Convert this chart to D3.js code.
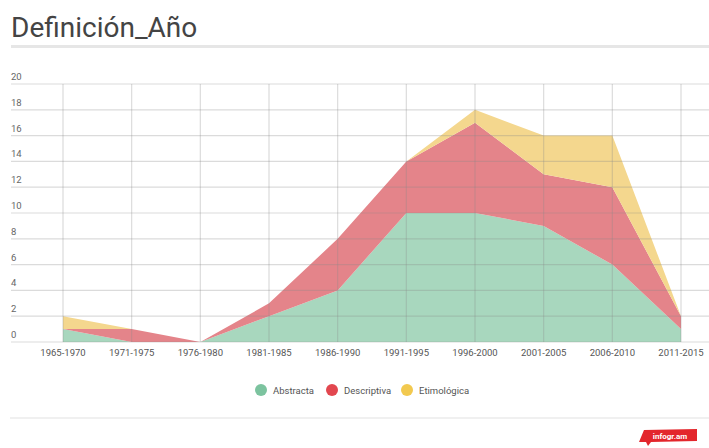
<!DOCTYPE html>
<html><head><meta charset="utf-8">
<script src="https://cdn.jsdelivr.net/npm/d3@7"></script>
<style>body{margin:0;background:#fff;}svg{display:block;}</style>
</head><body>
<svg id="c" width="709" height="448"></svg>
<script>
const categories = ["1965-1970","1971-1975","1976-1980","1981-1985","1986-1990","1991-1995","1996-2000","2001-2005","2006-2010","2011-2015"];
const abstracta   = [1,0,0,2,4,10,10,9,6,1];
const descriptiva = [0,1,0,1,4,4,7,4,6,1];
const etimologica = [1,0,0,0,0,0,1,3,4,0];
const seriesNames = ["Abstracta","Descriptiva","Etimológica"];
const yTicks = [0,2,4,6,8,10,12,14,16,18,20];
const legendColors = ["#7cc39f","#e2474f","#f2c94f"];
const areaColors = ["#a8d7be","#e4848a","#f4d78e"];

const svg = d3.select("#c");
const font = "Roboto, 'Open Sans', sans-serif";

svg.append("text").attr("x",11).attr("y",37).text("Definición_Año")
  .attr("font-family",font).attr("font-size",28).attr("fill","#444");
svg.append("rect").attr("x",11).attr("y",45).attr("width",698).attr("height",3).attr("fill","#e6e6e6");

const x = d3.scalePoint().domain(categories).range([63,681]);
const y = d3.scaleLinear().domain([0,20]).range([342,84]);

const data = categories.map((c,i)=>({cat:c,Abstracta:abstracta[i],Descriptiva:descriptiva[i],"Etimológica":etimologica[i]}));
const stack = d3.stack().keys(seriesNames)(data);

const area = d3.area().x(d=>x(d.data.cat)).y0(d=>y(d[0])).y1(d=>y(d[1]));
svg.append("g").selectAll("path").data(stack).join("path")
  .attr("d",area).attr("fill",(d,i)=>areaColors[i]);

// grid
const g = svg.append("g");
yTicks.forEach(t=>{
  g.append("line").attr("x1",11).attr("x2",709).attr("y1",y(t)).attr("y2",y(t))
    .attr("stroke","#888").attr("stroke-opacity",0.3).attr("stroke-width",1.2);
  g.append("text").attr("x",11).attr("y",y(t)-4).text(t)
    .attr("font-family",font).attr("font-size",9.5).attr("fill","#666");
});
categories.forEach(c=>{
  g.append("line").attr("x1",x(c)).attr("x2",x(c)).attr("y1",y(20)).attr("y2",y(0))
    .attr("stroke","#888").attr("stroke-opacity",0.3).attr("stroke-width",1.2);
  g.append("text").attr("x",x(c)).attr("y",356).attr("text-anchor","middle").text(c)
    .attr("font-family",font).attr("font-size",9.5).attr("fill","#555");
});

// legend
const legX = [261,332,407];
seriesNames.forEach((s,i)=>{
  svg.append("circle").attr("cx",legX[i]).attr("cy",390).attr("r",6).attr("fill",legendColors[i]);
  svg.append("text").attr("x",legX[i]+12).attr("y",393.5).text(s)
    .attr("font-family",font).attr("font-size",9.5).attr("fill","#555");
});

svg.append("rect").attr("x",10).attr("y",417).attr("width",699).attr("height",2).attr("fill","#f0f0f0");

// logo badge
svg.append("path").attr("d","M644,430 L697,429 L697,441 L651,442 L648,446 L646,442 L639,442 Z").attr("fill","#e3262c");
svg.append("text").attr("x",670).attr("y",439).attr("text-anchor","middle").text("infogr.am")
  .attr("font-family",font).attr("font-size",8).attr("font-weight","bold").attr("fill","#fff");
</script>
</body></html>
